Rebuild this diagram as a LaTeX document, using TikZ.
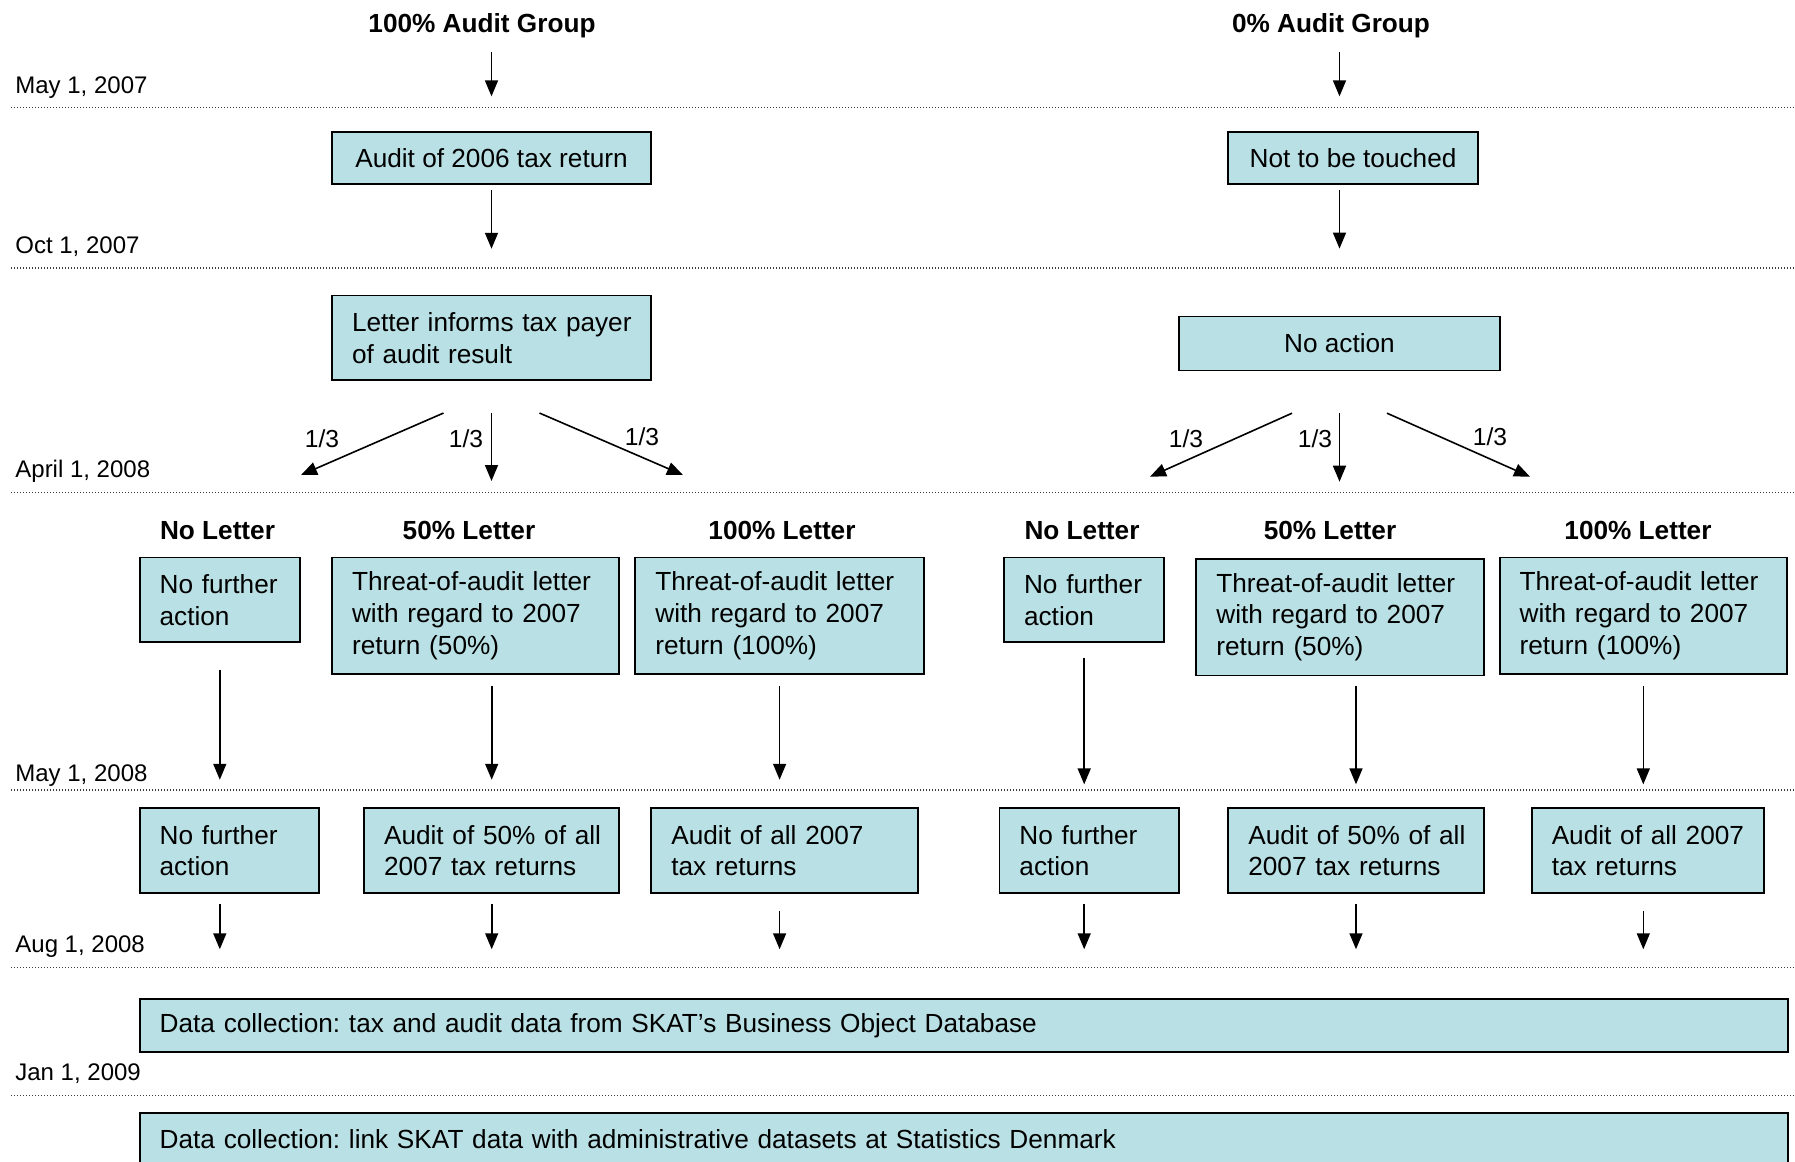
\documentclass[tikz,border=0pt]{standalone}
\usepackage{fontspec}
\setmainfont{Liberation Sans}
\usepackage{tikz}
\usetikzlibrary{arrows.meta}
\definecolor{skatBlue}{RGB}{185, 224, 228}
\definecolor{lineGray}{RGB}{60, 60, 60}
\tikzset{
    base/.style={
        font=\fontsize{13.1}{15.85}\selectfont,
        inner sep=0pt
    },
    block/.style={
        base,
        rectangle,
        draw=black,
        line width=0.9pt,
        fill=skatBlue,
        inner xsep=10pt,
        inner ysep=0pt,
        align=left
    },
    flow/.style={
        -{Triangle[length=8pt, width=6.5pt]},
        line width=0.8pt,
        color=black
    },
    period/.style={
        lineGray,
        line width=0.6pt,
        dash pattern=on 0.5pt off 1pt
    },
    datelabel/.style={
        font=\fontsize{12}{14}\selectfont,
        inner sep=0pt,
        anchor=base west
    },
    groupname/.style={
        base,
        font=\fontsize{13.1}{15.85}\selectfont\bfseries,
        anchor=base
    },
    share/.style={
        font=\fontsize{12.3}{14}\selectfont,
        inner sep=0pt,
        anchor=base
    }
}

\begin{document}
\frenchspacing
\begin{tikzpicture}[x=0.5pt, y=-0.5pt]
    \useasboundingbox (0,0) rectangle (1795,1162);

    % Time line
    \foreach \ly/\by/\d [count=\i] in {107.6/93.9/{May 1, 2007}, 267.9/253/{Oct 1, 2007}, 492.3/477.4/{April 1, 2008}, 789.9/781.9/{May 1, 2008}, 967.4/952.5/{Aug 1, 2008}, 1095.6/1080.7/{Jan 1, 2009}} {
        \draw[period] (11,\ly) -- (1795,\ly);
        \node[datelabel] (date\i) at (15,\by) {\d};
    }

    % Groups
    \node[groupname] (fullgrp) at (482,32.4) {100\% Audit Group};
    \node[groupname] (zerogrp) at (1331,32.4) {0\% Audit Group};

    \node[block, align=center, minimum width=159.5pt, minimum height=26.35pt] (audit06) at (491.5,158) {Audit of 2006 tax return};
    \node[block, align=center, minimum width=125pt, minimum height=26.35pt] (untouched) at (1353,158) {Not to be touched};
    \node[block, text width=139.5pt, minimum height=42.35pt] (inform) at (491.5,337.8) {\mbox{Letter informs tax payer}\\of audit result};
    \node[block, align=center, minimum width=160.25pt, minimum height=27pt] (noaction) at (1339.5,343.5) {No action};

    \draw[flow, shorten <=6.8pt, shorten >=17.2pt] (fullgrp.south -| audit06.north) -- (audit06.north);
    \draw[flow, shorten <=6.8pt, shorten >=17.2pt] (zerogrp.south -| noaction.north) -- (untouched.north -| noaction.north);
    \draw[flow, shorten <=2.3pt, shorten >=22.9pt] (audit06) -- (inform);
    \draw[flow, shorten <=2.3pt, shorten >=33.5pt] (untouched.south -| noaction.north) -- (noaction.north);

    % Random split into thirds
    \coordinate (tipAl) at (301,475);
    \coordinate (tipAm) at (491.5,481);
    \coordinate (tipAr) at (683,475);
    \coordinate (tipBl) at (1150,476.7);
    \coordinate (tipBm) at (1339.5,481.7);
    \coordinate (tipBr) at (1530,476.7);
    \draw[flow] ([xshift=-24pt, yshift=-16pt]inform.south) -- (tipAl);
    \draw[flow] ([yshift=-16pt]inform.south) -- (tipAm);
    \draw[flow] ([xshift=24pt, yshift=-16pt]inform.south) -- (tipAr);
    \draw[flow] ([xshift=-23.75pt, yshift=-20.9pt]noaction.south) -- (tipBl);
    \draw[flow] ([yshift=-20.9pt]noaction.south) -- (tipBm);
    \draw[flow] ([xshift=23.75pt, yshift=-20.9pt]noaction.south) -- (tipBr);

    \node[share] (shAl) at (322,447) {1/3};
    \node[share] (shAm) at (466,447) {1/3};
    \node[share] (shAr) at (642,445) {1/3};
    \node[share] (shBl) at (1186,447) {1/3};
    \node[share] (shBm) at (1315,447) {1/3};
    \node[share] (shBr) at (1490,445) {1/3};

    % Letter groups
    \node[groupname] (colA0) at (217.5,539) {No Letter};
    \node[groupname] (colA50) at (469,539) {50\% Letter};
    \node[groupname] (colA100) at (782,539) {100\% Letter};
    \node[groupname] (colB0) at (1082,539) {No Letter};
    \node[groupname] (colB50) at (1330,539) {50\% Letter};
    \node[groupname] (colB100) at (1638,539) {100\% Letter};

    \node[block, text width=60.15pt, minimum height=42.35pt] (nfA1) at (219.8,599.9) {\mbox{No further}\\action};
    \node[block, text width=123.65pt, minimum height=58.4pt] (thA50) at (475.7,615.9) {\mbox{Threat-of-audit letter}\\\mbox{with regard to 2007}\\return (50\%)};
    \node[block, text width=124.25pt, minimum height=58.4pt] (thA100) at (779.6,615.9) {\mbox{Threat-of-audit letter}\\\mbox{with regard to 2007}\\return (100\%)};
    \node[block, text width=60.15pt, minimum height=42.35pt] (nfB1) at (1084.2,599.9) {\mbox{No further}\\action};
    \node[block, text width=123.65pt, minimum height=58.4pt] (thB50) at (1340,617) {\mbox{Threat-of-audit letter}\\\mbox{with regard to 2007}\\return (50\%)};
    \node[block, text width=123.65pt, minimum height=58.4pt] (thB100) at (1643.3,615.9) {\mbox{Threat-of-audit letter}\\\mbox{with regard to 2007}\\return (100\%)};

    % Audits of 2007 returns
    \node[block, text width=69.85pt, minimum height=42.35pt] (nfA2) at (229.5,850.6) {\mbox{No further}\\action};
    \node[block, text width=107.65pt, minimum height=42.35pt] (auA50) at (491.7,850.6) {\mbox{Audit of 50\% of all}\\\mbox{2007 tax returns}};
    \node[block, text width=113.35pt, minimum height=42.35pt] (auA100) at (784.7,850.6) {\mbox{Audit of all 2007}\\tax returns};
    \node[block, text width=69.85pt, minimum height=42.35pt] (nfB2) at (1089.3,850.6) {\mbox{No further}\\action};
    \node[block, text width=107.65pt, minimum height=42.35pt] (auB50) at (1356,850.6) {\mbox{Audit of 50\% of all}\\\mbox{2007 tax returns}};
    \node[block, text width=96.25pt, minimum height=42.35pt] (auB100) at (1648,850.6) {\mbox{Audit of all 2007}\\tax returns};

    \draw[flow, shorten <=13.2pt, shorten >=13.8pt] (nfA1.south) -- (nfA1.south |- nfA2.north);
    \draw[flow, shorten <=5.2pt, shorten >=13.8pt] (thA50.south -| auA50.north) -- (auA50.north);
    \draw[flow, shorten <=5.2pt, shorten >=13.8pt] (thA100.south) -- (thA100.south |- auA100.north);
    \draw[flow, shorten <=7.4pt, shorten >=11.5pt] (nfB1.south) -- (nfB1.south |- nfB2.north);
    \draw[flow, shorten <=4.6pt, shorten >=11.5pt] (thB50.south -| auB50.north) -- (auB50.north);
    \draw[flow, shorten <=5.2pt, shorten >=11.5pt] (thB100.south) -- (thB100.south |- auB100.north);

    % Data collection
    \node[block, text width=804.25pt, minimum height=26.35pt] (collect) at (963.95,1025.7) {Data collection: tax and audit data from SKAT’s Business Object Database};
    \node[block, text width=804.25pt, minimum height=26.35pt] (link) at (963.95,1139.2) {Data collection: link SKAT data with administrative datasets at Statistics Denmark};

    \foreach \top/\bot/\gap in {nfA1/nfA2/5.1pt, auA50/auA50/5.1pt, thA100/auA100/8.5pt, nfB1/nfB2/5.1pt, auB50/auB50/5.1pt, thB100/auB100/8.5pt}
        \draw[flow, shorten <=\gap, shorten >=24.6pt] (\bot.south -| \top.south) -- (collect.north -| \top.south);

\end{tikzpicture}
\end{document}
